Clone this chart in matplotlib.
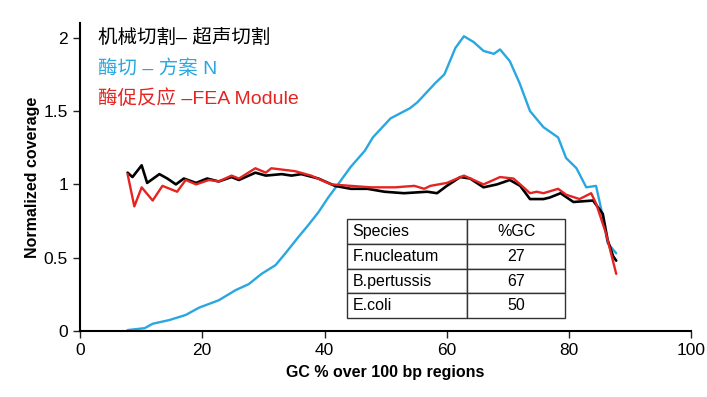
import numpy as np
import matplotlib
matplotlib.use('Agg')
import matplotlib.pyplot as plt

plt.rcParams['font.family'] = ['Liberation Sans', 'Noto Sans CJK SC', 'DejaVu Sans']

# 超声切割 (black)
gc_black = [7.8, 8.6, 10.1, 11.0, 13.0, 14.3, 15.7, 17.0, 19.0, 20.8, 22.7, 24.8, 26.0, 28.7, 30.4,
            33.0, 34.6, 36.2, 39.0, 41.7, 44.3, 47.0, 49.8, 53.0, 56.8, 58.4, 60.0, 62.2, 63.8,
            66.0, 68.2, 70.3, 72.0, 73.6, 75.8, 76.8, 78.6, 80.7, 83.9, 85.5, 86.3, 87.2, 87.7]
cov_black = [1.08, 1.05, 1.13, 1.01, 1.07, 1.04, 1.00, 1.04, 1.01, 1.04, 1.02, 1.05, 1.03, 1.08, 1.06,
             1.07, 1.06, 1.07, 1.04, 0.99, 0.97, 0.97, 0.95, 0.94, 0.95, 0.94, 0.99, 1.05, 1.04,
             0.98, 1.00, 1.03, 0.99, 0.90, 0.90, 0.91, 0.94, 0.88, 0.89, 0.80, 0.62, 0.51, 0.48]

# 方案 N (blue)
gc_blue = [7.8, 10.6, 11.9, 14.6, 17.3, 19.5, 22.7, 25.5, 27.6, 29.7, 32.0, 33.6, 35.7, 37.3, 39.0,
           40.6, 42.2, 44.3, 46.6, 47.9, 50.8, 54.0, 55.2, 58.1, 59.6, 61.4, 62.8, 64.4, 66.0,
           67.7, 68.7, 70.3, 71.9, 73.6, 75.8, 78.2, 79.5, 81.2, 82.8, 84.4, 85.2, 86.3, 87.7]
cov_blue = [0.007, 0.02, 0.05, 0.075, 0.11, 0.16, 0.21, 0.28, 0.32, 0.39, 0.45, 0.53, 0.64, 0.72, 0.81,
            0.91, 1.00, 1.12, 1.23, 1.32, 1.45, 1.52, 1.56, 1.69, 1.75, 1.93, 2.01, 1.97, 1.91,
            1.89, 1.92, 1.84, 1.69, 1.50, 1.39, 1.32, 1.18, 1.11, 0.98, 0.99, 0.84, 0.60, 0.53]

# FEA Module (red)
gc_red = [7.8, 8.9, 10.1, 11.9, 13.5, 15.9, 17.3, 19.0, 21.1, 22.7, 24.8, 26.0, 28.7, 30.4, 31.3,
          35.2, 37.8, 41.1, 44.3, 47.6, 51.5, 54.7, 56.3, 57.3, 60.0, 62.8, 66.0, 68.7, 70.9,
          72.0, 73.6, 74.7, 75.8, 78.2, 79.5, 81.7, 83.6, 84.4, 86.0, 87.7]
cov_red = [1.07, 0.85, 0.98, 0.89, 0.99, 0.95, 1.03, 1.00, 1.03, 1.02, 1.06, 1.04, 1.11, 1.08, 1.11,
           1.09, 1.06, 1.00, 0.99, 0.98, 0.98, 0.99, 0.97, 0.99, 1.01, 1.06, 1.00, 1.05, 1.04,
           1.00, 0.94, 0.95, 0.94, 0.97, 0.93, 0.90, 0.94, 0.87, 0.67, 0.39]

labels = ['机械切割– 超声切割', '酶切 – 方案 N', '酶促反应 –FEA Module']
colors = ['black', '#29A7E1', '#E52421']

species = ['F.nucleatum', 'B.pertussis', 'E.coli']
species_gc = [27, 67, 50]

fig = plt.figure(figsize=(7.07, 3.97), dpi=100)
ax = fig.add_axes([0.113, 0.166, 0.865, 0.776])

kw = dict(solid_joinstyle='round', solid_capstyle='round')
ax.plot(gc_blue, cov_blue, color=colors[1], lw=1.7, **kw)
ax.plot(gc_black, cov_black, color=colors[0], lw=1.9, **kw)
ax.plot(gc_red, cov_red, color=colors[2], lw=1.7, **kw)

ax.set_xlim(0, 100)
ax.set_ylim(0, 2.1)
ax.set_xticks([0, 20, 40, 60, 80, 100])
ax.set_yticks([0, 0.5, 1, 1.5, 2])
ax.set_yticklabels(['0', '0.5', '1', '1.5', '2'])
ax.tick_params(labelsize=12.5, width=1, length=5, color='#222222')
ax.spines['top'].set_visible(False)
ax.spines['right'].set_visible(False)
ax.spines['left'].set_linewidth(1.5)
ax.spines['bottom'].set_linewidth(1.5)
ax.set_xlabel('GC % over 100 bp regions', fontsize=11.5, fontweight='bold', labelpad=5)
ax.set_ylabel('Normalized coverage', fontsize=11.5, fontweight='bold', labelpad=3)

for i, (lab, c) in enumerate(zip(labels, colors)):
    ax.text(2.9, [2.0, 1.79, 1.585][i], lab, color=c, fontsize=14, va='center', ha='left')

cells = [['Species', '%GC']] + [[s, str(g)] for s, g in zip(species, species_gc)]
tbl = ax.table(cellText=cells, colWidths=[0.552, 0.448],
               bbox=[0.436, 0.042, 0.358, 0.321])
tbl.auto_set_font_size(False)
tbl.set_fontsize(11.5)
for (r, c), cell in tbl.get_celld().items():
    cell.set_linewidth(1.0)
    cell.set_edgecolor('#333333')
    cell.set_facecolor('white')
    if c == 0:
        cell.get_text().set_ha('left')
        cell.PAD = 0.05
    else:
        cell.get_text().set_ha('center')

fig.savefig('out.png', dpi=100)
